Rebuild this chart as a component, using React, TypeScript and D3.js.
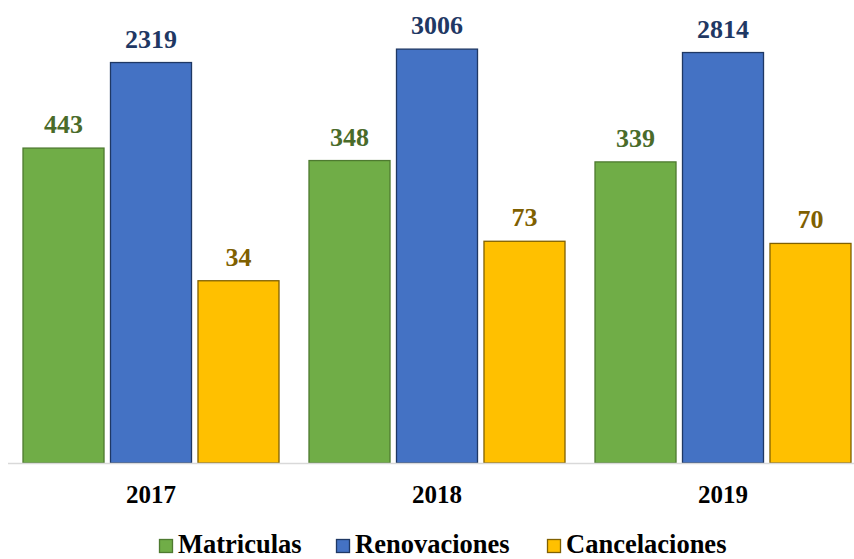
import React, { useEffect, useRef } from "react";
import * as d3 from "d3";

// chart data
const years = ["2017", "2018", "2019"];
const seriesNames = ["Matriculas", "Renovaciones", "Cancelaciones"];
const matriculas = [443, 348, 339];
const renovaciones = [2319, 3006, 2814];
const cancelaciones = [34, 73, 70];

const fills = ["#70ad47", "#4472c4", "#ffc000"];
const strokes = ["#4e7a30", "#1f3864", "#806000"];
const labelColors = ["#4a6b2a", "#1f3864", "#7f6000"];

export default function App() {
  const ref = useRef<SVGSVGElement>(null);

  useEffect(() => {
    const svg = d3.select(ref.current);
    svg.selectAll("*").remove();

    const W = 854;
    const baseY = 463;
    const font = "'Liberation Serif', 'Times New Roman', serif";

    const values = [matriculas, renovaciones, cancelaciones];

    // log axis, base at 1
    const y = d3.scaleLog().domain([1, 10000]).range([baseY, baseY - 4 * 119]);

    const x0 = d3.scaleBand().domain(years).range([8, 866]).padding(0);
    const x1 = d3
      .scaleBand()
      .domain(seriesNames)
      .range([15, x0.bandwidth() - 15])
      .paddingInner(0.074);

    const g = svg.append("g");

    // bars
    seriesNames.forEach((name, si) => {
      const sg = g.append("g");
      sg.selectAll("rect")
        .data(years)
        .join("rect")
        .attr("x", (d) => x0(d)! + x1(name)!)
        .attr("y", (d, i) => y(values[si][i]))
        .attr("width", x1.bandwidth())
        .attr("height", (d, i) => baseY - y(values[si][i]))
        .attr("fill", fills[si])
        .attr("stroke", strokes[si])
        .attr("stroke-width", 1.3);

      sg.selectAll("text")
        .data(years)
        .join("text")
        .attr("x", (d) => x0(d)! + x1(name)! + x1.bandwidth() / 2)
        .attr("y", (d, i) => y(values[si][i]) - 15)
        .attr("text-anchor", "middle")
        .style("font-family", font)
        .style("font-weight", "bold")
        .style("font-size", "26px")
        .attr("fill", labelColors[si])
        .text((d, i) => values[si][i]);
    });

    // category axis line
    g.append("line")
      .attr("x1", 8)
      .attr("x2", W)
      .attr("y1", baseY + 0.5)
      .attr("y2", baseY + 0.5)
      .attr("stroke", "#d9d9d9")
      .attr("stroke-width", 1.5);

    g.selectAll(".year_label")
      .data(years)
      .join("text")
      .attr("class", "year_label")
      .attr("x", (d) => x0(d)! + x0.bandwidth() / 2)
      .attr("y", 503)
      .attr("text-anchor", "middle")
      .style("font-family", font)
      .style("font-weight", "bold")
      .style("font-size", "25px")
      .attr("fill", "#000")
      .text((d) => d);

    // legend
    const legendX = [159, 336, 547];
    const lg = g.selectAll(".legend_item")
      .data(seriesNames)
      .join("g")
      .attr("class", "legend_item")
      .attr("transform", (d, i) => `translate(${legendX[i]},0)`);

    lg.append("rect")
      .attr("x", 0.5)
      .attr("y", 539.5)
      .attr("width", 13)
      .attr("height", 13)
      .attr("fill", (d, i) => fills[i])
      .attr("stroke", (d, i) => strokes[i])
      .attr("stroke-width", 1.3);

    lg.append("text")
      .attr("x", 19)
      .attr("y", 553)
      .style("font-family", font)
      .style("font-weight", "bold")
      .style("font-size", "26.5px")
      .attr("fill", "#000")
      .text((d) => d);
  }, []);

  return (
    <svg
      ref={ref}
      width={854}
      height={559}
      style={{ position: "absolute", left: 0, top: 0, background: "#fff" }}
    />
  );
}
